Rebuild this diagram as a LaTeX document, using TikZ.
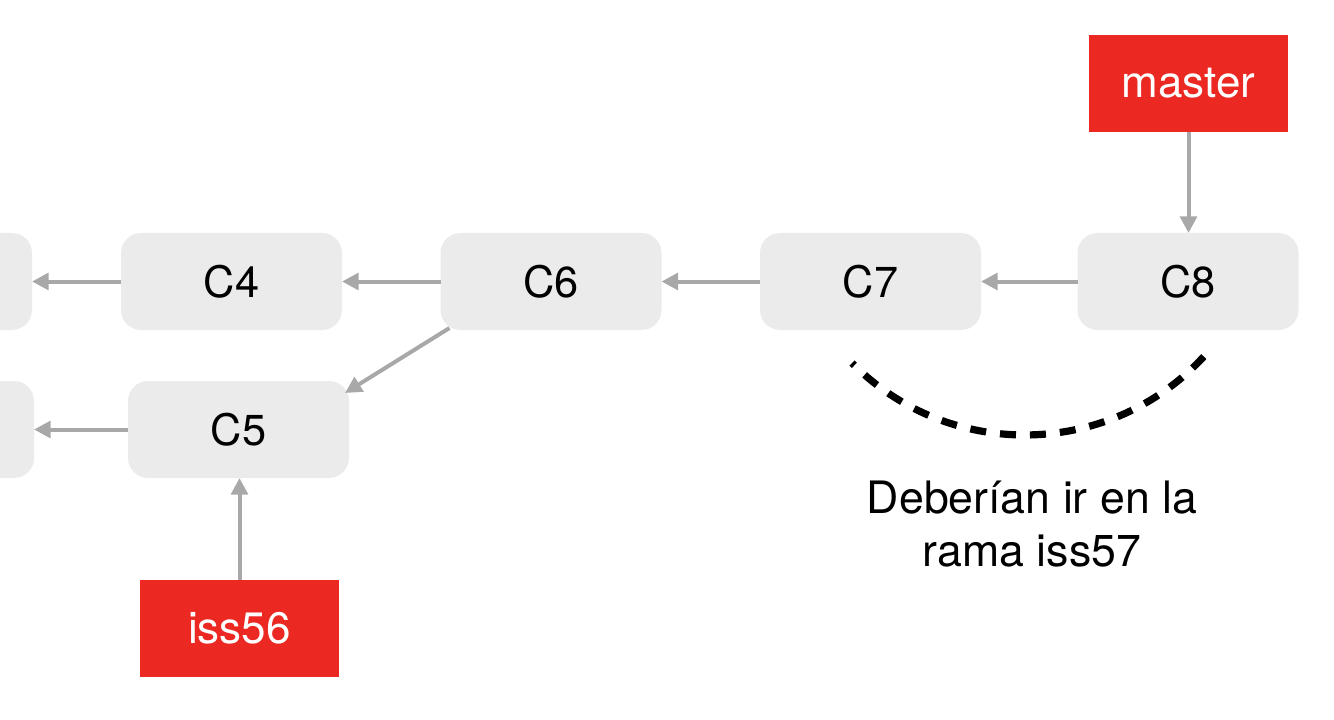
\documentclass[tikz,border=0pt]{standalone}
\usepackage{fontspec}
\setmainfont{TeX Gyre Heros}
\usetikzlibrary{arrows.meta}
\definecolor{boxgray}{HTML}{EBEBEB}
\definecolor{arrgray}{HTML}{A8A8A8}
\definecolor{refred}{HTML}{EB2822}
\tikzset{
  commit/.style={fill=boxgray, draw=none, rounded corners=15pt, minimum width=165.75pt, minimum height=72.75pt, inner sep=0pt, outer sep=0pt, font=\fontsize{32.5}{38}\selectfont, text=black},
  branch/.style={fill=refred, draw=none, minimum width=149.25pt, minimum height=72.75pt, inner sep=0pt, outer sep=0pt, font=\fontsize{33}{38}\selectfont, text=white},
  link/.style={draw=arrgray, line width=3pt, -{Triangle[length=12.5pt,width=12.5pt]}},
  dashline/.style={draw=black, line width=5.4pt, dash pattern=on 12pt off 10.5pt, dash phase=9.5pt}
}
\begin{document}
\begin{tikzpicture}[x=0.75pt,y=-0.75pt]
\useasboundingbox (0,0) rectangle (1334,720);
\clip (0,0) rectangle (1334,720);
% commits
\node[commit] (p1) at (-78.5,281.5) {};
\node[commit] (c4) at (231.5,281.5) {C4};
\node[commit] (c6) at (551,281.5) {C6};
\node[commit] (c7) at (870.5,281.5) {C7};
\node[commit] (c8) at (1188,281.5) {C8};
\node[commit] (p2) at (-76.5,429.5) {};
\node[commit] (c5) at (238.5,429.5) {C5};
% branches
\node[branch] (master) at (1188.5,83.5) {master};
\node[branch] (iss56) at (239.5,628) {iss56};
% connectors
\draw[link] (c4) -- (p1);
\draw[link] (c6) -- (c4);
\draw[link] (c7) -- (c6);
\draw[link] (c8) -- (c7);
\draw[link] (c5) -- (p2);
\draw[link] ([xshift=6.75pt,yshift=1.5pt]c6.south west) -- ([xshift=-3pt,yshift=-9pt]c5.north east);
\draw[link] (master) -- (master |- c8.north);
\draw[link] (iss56) -- (iss56 |- c5.south);
% dashed arc
\coordinate (as) at (852,363);
\coordinate (ae) at (1207,353);
\draw[dashline] (as) .. controls (951,463) and (1114,458) .. (ae);
% annotation
\node[align=center, inner sep=0pt, font=\fontsize{33.5}{40}\selectfont] (note) at (1032,524) {Deberían ir en la\\rama iss57};
\end{tikzpicture}
\end{document}
